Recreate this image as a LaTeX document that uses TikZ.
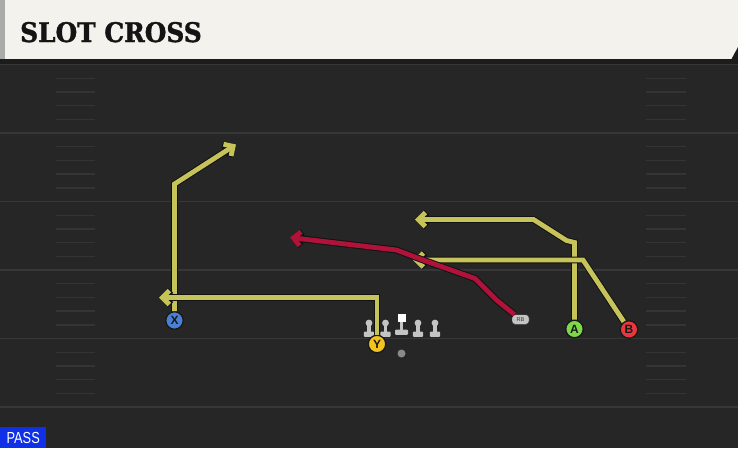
\documentclass[tikz,border=0pt]{standalone}
\usepackage{fontspec}
\usetikzlibrary{arrows.meta}
\newfontfamily\titlefont[FakeStretch=0.92, BoldFeatures={FakeBold=1.3}]{DejaVu Serif}
\newfontfamily\labelfont{Liberation Sans}
\newfontfamily\passfont[FakeStretch=0.8]{Liberation Sans}
\definecolor{cream}{HTML}{F4F2EC}
\definecolor{stripgray}{HTML}{A9ABA8}
\definecolor{fieldbg}{HTML}{262626}
\definecolor{banddark}{HTML}{1C1C1C}
\definecolor{yardgray}{HTML}{373737}
\definecolor{hashgray}{HTML}{343434}
\definecolor{routeyel}{HTML}{C6C35A}
\definecolor{routered}{HTML}{B0123A}
\definecolor{routeedge}{HTML}{121212}
\definecolor{xblue}{HTML}{4A7FD8}
\definecolor{yyellow}{HTML}{F2C21E}
\definecolor{agreen}{HTML}{7ED84A}
\definecolor{bred}{HTML}{E8383F}
\definecolor{linegray}{HTML}{C4C4C4}
\definecolor{qbgray}{HTML}{8A8A8A}
\definecolor{passblue}{HTML}{1030E8}
\tikzset{
  yardline/.style={draw=yardgray, line width=1.8pt},
  hashmark/.style={draw=hashgray, line width=1.4pt},
  route/.style={draw=routeyel, line width=4.8pt, line join=miter,
    -{Straight Barb[length=7pt,width=14pt]},
    preaction={draw=routeedge, line width=6.8pt}},
  player/.style={circle, draw=black!90, line width=1.3pt, minimum size=17.5pt,
    inner sep=0pt, font=\labelfont\bfseries\fontsize{12}{12}\selectfont, text=black!90}
}

\begin{document}
\begin{tikzpicture}[x=1pt, y=-1pt]
        \useasboundingbox (0,0) rectangle (738,448);
        \fill[fieldbg] (0,0) rectangle (738,448);
        \fill[banddark] (0,59) rectangle (738,64);
        \fill[cream] (0,0) rectangle (738,59);
        \fill[stripgray] (0,0) rectangle (5,59);
        \fill[banddark] (731.5,59) -- (738,47) -- (738,59) -- cycle;
        \node[anchor=base west, inner sep=0pt, text=black!92,
          font=\titlefont\bfseries\fontsize{27}{27}\selectfont] (title) at (20,42) {SLOT CROSS};

        \foreach \yl in {64.5, 133, 201.5, 270, 338.5, 407} {
        \draw[yardline] (0,\yl) -- (738,\yl);
        }
        \foreach \yl in {64.5, 133, 201.5, 270, 338.5} {
        \foreach \k in {1, ..., 4} {
        \draw[hashmark] (56,{\yl+13.7*\k}) -- (95,{\yl+13.7*\k});
        \draw[hashmark] (646,{\yl+13.7*\k}) -- (686,{\yl+13.7*\k});
        }
        }

        \foreach \lx in {369, 385.5, 418, 435} {
        \fill[linegray] (\lx,323) circle (3.4);
        \fill[linegray] ({\lx-1.7},323) rectangle ({\lx+1.7},333);
        \fill[linegray, rounded corners=1pt] ({\lx-5.2},331.5) rectangle ({\lx+5.2},336.8);
        }
        \fill[white] (397.5,314) rectangle (405.5,322);
        \fill[linegray] (399.8,322) rectangle (403.2,331);
        \fill[linegray, rounded corners=1pt] (395,329.5) rectangle (408,334.8);
        \fill[qbgray] (401.5,353.5) circle (4);

        \node[player, fill=xblue] (X) at (174.5,320.5) {X};
        \node[player, fill=yyellow] (Y) at (377,344) {Y};
        \node[player, fill=agreen] (A) at (574.5,329) {A};
        \node[player, fill=bred] (B) at (629,329.5) {B};
        \node[draw=black!80, fill=linegray, rounded corners=3pt, minimum width=17pt,
          minimum height=9.5pt, inner sep=0pt, text=black!80,
          font=\labelfont\fontsize{5.5}{5.5}\selectfont] (RB) at (520.5,319.5) {RB};

        \draw[route] (X) -- (174.5,184) -- (236,144.5);
        \draw[route] (Y) -- (377,297.5) -- (159,297.5);
        \draw[route] (A) -- (574.5,242.5) -- (566.5,240.5) -- (533.5,219.5) -- (415,219.5);
        \draw[route] (B) -- (583,260) -- (413,260);
        \draw[route, draw=routered] (RB) -- (496.5,300) -- (475,278.5) -- (423,260)
          -- (396.5,250) -- (290,237.5);

        \node[fill=passblue, text=white, anchor=south west, minimum width=46pt,
          minimum height=20.5pt, inner sep=0pt,
          font=\passfont\fontsize{16}{16}\selectfont] (mode) at (0,448) {PASS};
\end{tikzpicture}
\end{document}
